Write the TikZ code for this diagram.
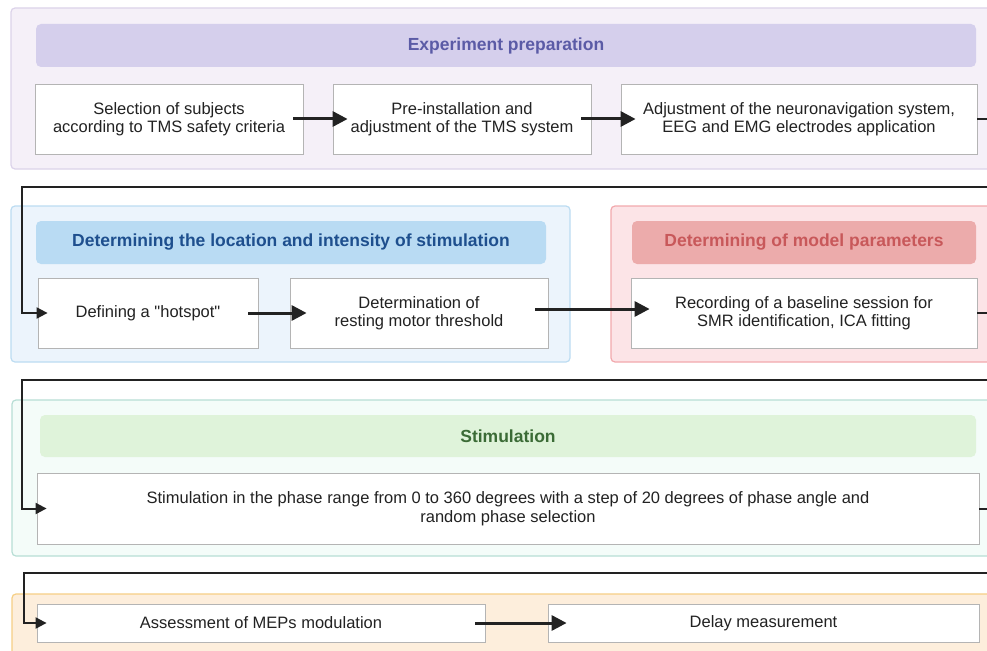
\documentclass[tikz,border=0pt]{standalone}
\usepackage{fontspec}
\setmainfont{Liberation Sans}
\usepackage{xcolor}
\usepackage{tikz}
\usetikzlibrary{arrows.meta,positioning,calc}
\definecolor{txt}{RGB}{34,34,34}
\definecolor{boxline}{RGB}{180,180,180}
\definecolor{purpfill}{RGB}{245,240,248}
\definecolor{purpline}{RGB}{220,211,234}
\definecolor{purphead}{RGB}{213,207,236}
\definecolor{purptext}{RGB}{91,91,166}
\definecolor{bluefill}{RGB}{236,244,252}
\definecolor{blueline}{RGB}{188,220,242}
\definecolor{bluehead}{RGB}{185,219,243}
\definecolor{bluetext}{RGB}{30,79,142}
\definecolor{redfill}{RGB}{252,228,231}
\definecolor{redline}{RGB}{242,169,173}
\definecolor{redhead}{RGB}{236,171,171}
\definecolor{redtext}{RGB}{200,88,90}
\definecolor{greenfill}{RGB}{244,252,249}
\definecolor{greenline}{RGB}{183,222,213}
\definecolor{greenhead}{RGB}{223,243,218}
\definecolor{greentext}{RGB}{59,107,54}
\definecolor{orangefill}{RGB}{253,238,220}
\definecolor{orangeline}{RGB}{246,207,133}
\tikzset{
  stagebox/.style={rounded corners=4pt, line width=1.2pt},
  headbox/.style={rounded corners=5pt, minimum height=43pt, align=center,
    font=\fontsize{17.5}{20}\selectfont\bfseries},
  stepbox/.style={draw=boxline, fill=white, line width=0.8pt, align=center,
    text=txt, font=\fontsize{16.5}{18.5}\selectfont},
  flow/.style={-{Triangle[length=15pt, width=15pt]}, line width=3pt, draw=txt},
  elbow/.style={-{Triangle[length=11pt, width=11pt]}, line width=2pt, draw=txt}
}
\begin{document}
\begin{tikzpicture}[x=1pt, y=-1pt]
\clip (0,0) rectangle (987,650);
\fill[white] (0,0) rectangle (987,650);

% stage frames
\draw[stagebox, fill=purpfill, draw=purpline] (11,8) rectangle (1000,169);
\draw[stagebox, fill=bluefill, draw=blueline] (11,206) rectangle (570,362);
\draw[stagebox, fill=redfill, draw=redline] (611,206) rectangle (1000,362);
\draw[stagebox, fill=greenfill, draw=greenline] (12,400) rectangle (1000,556);
\draw[stagebox, fill=orangefill, draw=orangeline] (12,594) rectangle (1000,670);

% headers
\node[headbox, fill=purphead, text=purptext, minimum width=940pt] (prephead) at (506,45.5) {Experiment preparation};
\node[headbox, fill=bluehead, text=bluetext, minimum width=510pt] (lochead) at (291,242.5) {Determining the location and intensity of stimulation};
\node[headbox, fill=redhead, text=redtext, minimum width=344pt] (modhead) at (804,242.5) {Determining of model parameters};
\node[headbox, fill=greenhead, text=greentext, minimum width=936pt, minimum height=42pt] (stimhead) at (508,436) {Stimulation};

% steps
\node[stepbox, minimum width=268pt, minimum height=70pt] (subj) at (169,119) {Selection of subjects\\according to TMS safety criteria};
\node[stepbox, minimum width=258pt, minimum height=70pt] (preinst) at (462,119) {Pre-installation and\\adjustment of the TMS system};
\node[stepbox, minimum width=356pt, minimum height=70pt] (neuro) at (799,119) {Adjustment of the neuronavigation system,\\EEG and EMG electrodes application};
\node[stepbox, minimum width=220pt, minimum height=70pt] (hot) at (148,313) {Defining a \textquotedbl hotspot\textquotedbl};
\node[stepbox, minimum width=258pt, minimum height=70pt] (rmt) at (419,313) {Determination of\\resting motor threshold};
\node[stepbox, minimum width=346pt, minimum height=70pt] (rec) at (804,313) {Recording of a baseline session for\\SMR identification, ICA fitting};
\node[stepbox, minimum width=942pt, minimum height=71pt] (stim) at (508,508.5) {Stimulation in the phase range from 0 to 360 degrees with a step of 20 degrees of phase angle and\\random phase selection};
\node[stepbox, minimum width=448pt, minimum height=38pt] (mep) at (261,623) {Assessment of MEPs modulation};
\node[stepbox, minimum width=431pt, minimum height=38pt] (delay) at (763.5,623) {Delay measurement};

% arrows inside a row
\draw[flow] ([xshift=-10pt]subj.east) -- ([xshift=15pt]preinst.west);
\draw[flow] ([xshift=-10pt]preinst.east) -- ([xshift=15pt]neuro.west);
\draw[flow] ([xshift=-10pt]hot.east) -- ([xshift=17pt]hot.east -| rmt.west);
\draw[flow] ([yshift=4pt, xshift=-13pt]rmt.east) -- ([yshift=4pt, xshift=19pt]rec.west);
\draw[flow] ([xshift=-10pt]mep.east) -- ([xshift=19pt]delay.west);

% row to row
\draw[elbow] (neuro.east) -- ++(20,0) |- (22,187) |- ([xshift=10pt]hot.west);
\draw[elbow] (rec.east) -- ++(20,0) |- (22,380) |- ([xshift=10pt]stim.west);
\draw[elbow] (stim.east) -- ++(20,0) |- (24,573) |- ([xshift=10pt]mep.west);
\end{tikzpicture}
\end{document}
